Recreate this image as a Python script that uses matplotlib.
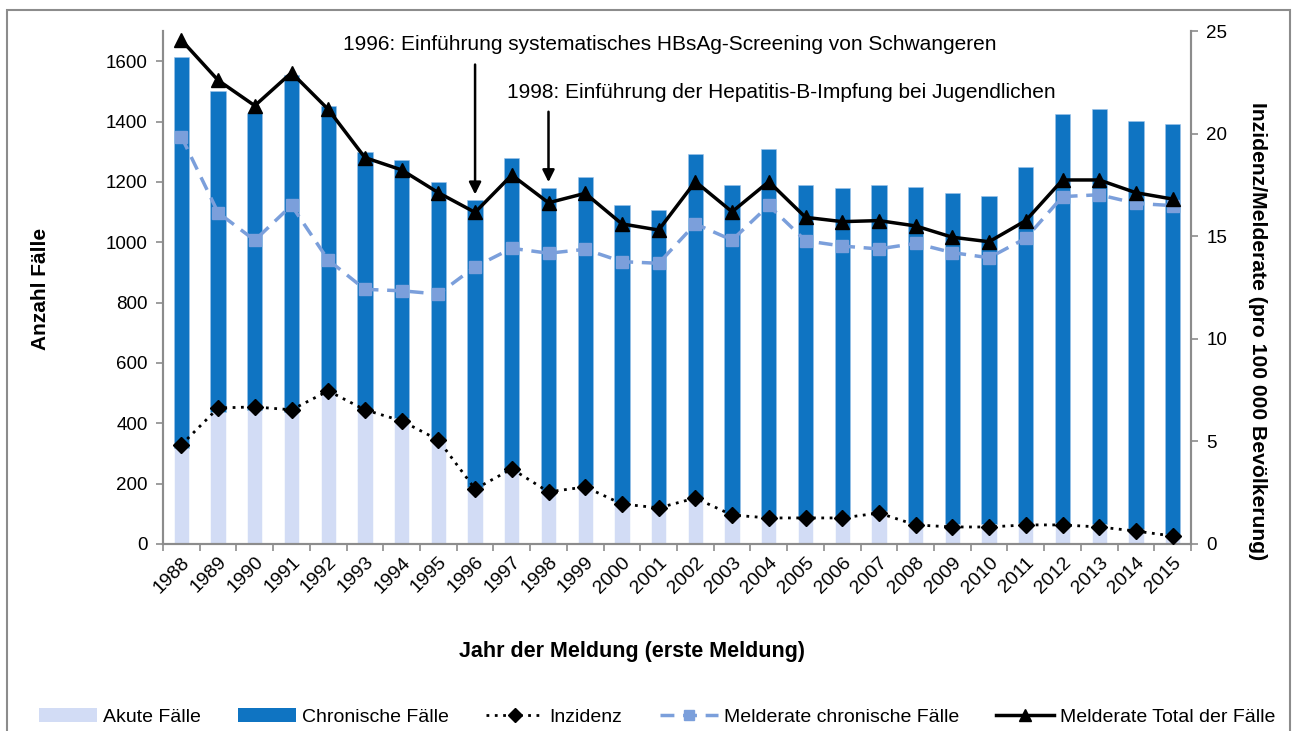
import matplotlib
matplotlib.use("Agg")
import matplotlib.pyplot as plt
import numpy as np
from matplotlib.patches import Rectangle, Patch
from matplotlib.lines import Line2D

plt.rcParams['font.family'] = ['Liberation Sans', 'DejaVu Sans']

years = [str(y) for y in range(1988, 2016)]
total_cases = [1613, 1500, 1428, 1553, 1451, 1298, 1272, 1199, 1139, 1278, 1179, 1216,
               1123, 1106, 1292, 1189, 1308, 1189, 1179, 1189, 1182, 1162, 1153, 1249,
               1424, 1441, 1401, 1391]
acute_cases = [318, 438, 444, 438, 505, 449, 416, 344, 190, 240, 179, 195,
               140, 124, 157, 102, 90, 88, 90, 110, 71, 65, 65, 71,
               71, 65, 49, 33]
chronic_cases = [t - a for t, a in zip(total_cases, acute_cases)]
inzidenz = [4.83, 6.63, 6.68, 6.54, 7.46, 6.54, 6.0, 5.07, 2.68, 3.66, 2.54, 2.78,
            1.95, 1.76, 2.24, 1.41, 1.27, 1.27, 1.27, 1.51, 0.93, 0.83, 0.83, 0.93,
            0.93, 0.83, 0.63, 0.39]
melderate_chron = [19.85, 16.15, 14.8, 16.5, 13.84, 12.41, 12.34, 12.18, 13.51, 14.41,
                   14.17, 14.36, 13.76, 13.68, 15.6, 14.81, 16.5, 14.78, 14.52, 14.38,
                   14.65, 14.2, 13.95, 14.9, 16.93, 17.02, 16.6, 16.49]
melderate_total = [24.56, 22.6, 21.36, 22.97, 21.18, 18.83, 18.23, 17.12, 16.16, 17.98,
                   16.63, 17.09, 15.6, 15.3, 17.66, 16.19, 17.66, 15.92, 15.71, 15.76,
                   15.5, 14.95, 14.73, 15.76, 17.74, 17.74, 17.12, 16.81]

c_acute = '#D2DCF5'
c_chron = '#0F74C2'
c_mch = '#7B9FDB'
grey = '#8C8C8C'

W, H = 1293, 731
fig = plt.figure(figsize=(W / 100, H / 100), dpi=100)
ax = fig.add_axes([163 / W, 1 - 544 / H, (1191 - 163) / W, (544 - 31) / H])
ax2 = ax.twinx()

x = np.arange(len(years))
bw = 0.42
ax.bar(x, acute_cases, bw, color=c_acute, edgecolor='white', linewidth=0.4, zorder=2)
ax.bar(x, chronic_cases, bw, bottom=acute_cases, color=c_chron, edgecolor='#9CC3EA',
       linewidth=0.4, zorder=2)
ax.set_ylim(0, 1700)
ax.set_xlim(-0.5, len(years) - 0.5)
ax.set_yticks(range(0, 1601, 200))
ax.set_xticks(x)
ax.set_xticklabels(years, rotation=45, ha='right', va='top', rotation_mode='anchor')
ax.set_xticks(np.arange(-0.5, len(years), 1), minor=True)
ax.tick_params(axis='x', which='major', length=0, pad=7, labelsize=14)
ax.tick_params(axis='x', which='minor', length=5, color=grey, width=1.2)
ax.tick_params(axis='y', length=5, color=grey, width=1.2, labelsize=13.5, pad=6)

ax2.plot(x, inzidenz, color='black', linestyle=(0, (1, 2)), linewidth=2,
         marker='D', markersize=8, zorder=3)
ax2.plot(x, melderate_chron, color=c_mch, linestyle=(0, (4, 2.5)), linewidth=2.5,
         marker='s', markersize=8.5, zorder=3)
ax2.plot(x, melderate_total, color='black', linestyle='-', linewidth=2.5,
         marker='^', markersize=10, zorder=4)
ax2.set_ylim(0, 25)
ax2.set_yticks(range(0, 26, 5))
ax2.tick_params(axis='y', length=5, color=grey, width=1.2, labelsize=13.5, pad=6)

for a in (ax, ax2):
    a.spines['top'].set_visible(False)
    for s in ('left', 'right', 'bottom'):
        a.spines[s].set_color(grey)
        a.spines[s].set_linewidth(1.5)

# annotations
ax2.annotate('', xy=(8, 16.9), xytext=(8, 23.5),
             arrowprops=dict(arrowstyle='-|>', color='black', lw=1.8, mutation_scale=18))
ax2.annotate('', xy=(10, 17.5), xytext=(10, 21.2),
             arrowprops=dict(arrowstyle='-|>', color='black', lw=1.8, mutation_scale=18))
fig.text(343 / W, 1 - 45 / H, '1996: Einführung systematisches HBsAg-Screening von Schwangeren',
         fontsize=15, ha='left', va='center')
fig.text(507 / W, 1 - 93 / H, '1998: Einführung der Hepatitis-B-Impfung bei Jugendlichen',
         fontsize=15, ha='left', va='center')

fig.text(40 / W, 1 - 289 / H, 'Anzahl Fälle', rotation=90, fontsize=15, fontweight='bold',
         ha='center', va='center')
fig.text(1257 / W, 1 - 331 / H, 'Inzidenz/Melderate (pro 100 000 Bevölkerung)', rotation=-90,
         fontsize=15.2, fontweight='bold', ha='center', va='center')
fig.text(632 / W, 1 - 652 / H, 'Jahr der Meldung (erste Meldung)', fontsize=15.5,
         fontweight='bold', ha='center', va='center')

handles = [
    Patch(facecolor=c_acute, edgecolor='none'),
    Patch(facecolor=c_chron, edgecolor='none'),
    Line2D([], [], color='black', linestyle=(0, (1, 2)), linewidth=2, marker='D', markersize=7),
    Line2D([], [], color=c_mch, linestyle=(0, (4, 2.5)), linewidth=2.5, marker='s', markersize=7),
    Line2D([], [], color='black', linestyle='-', linewidth=2.5, marker='^', markersize=8),
]
labels = ['Akute Fälle', 'Chronische Fälle', 'Inzidenz', 'Melderate chronische Fälle',
          'Melderate Total der Fälle']
fig.legend(handles, labels, loc='center', bbox_to_anchor=(657 / W, 1 - 717 / H), ncol=5,
           frameon=False, handlelength=3, handletextpad=0.3, columnspacing=1.9,
           prop={'size': 14})

fig.patches.append(Rectangle((7 / W, -0.05), (1290 - 7) / W, 1.05 - 10 / H,
                             transform=fig.transFigure, fill=False, edgecolor=grey,
                             linewidth=1.5))

fig.savefig('out.png', dpi=100)
